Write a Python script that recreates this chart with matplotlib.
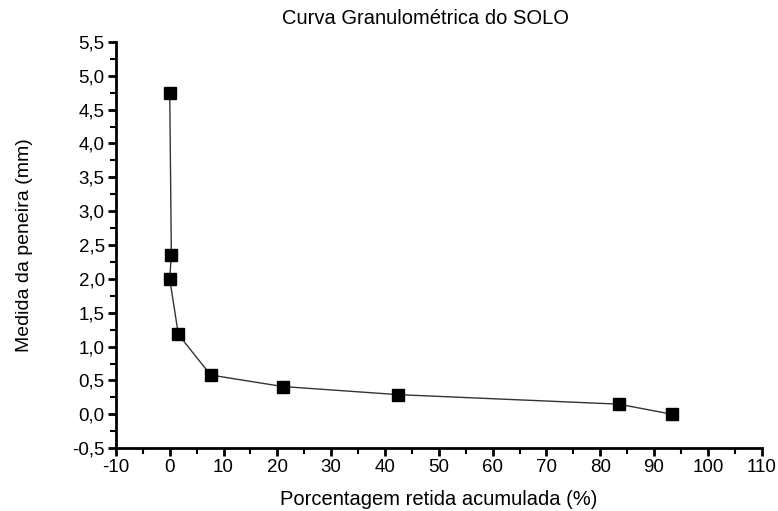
import numpy as np
import matplotlib.pyplot as plt
from matplotlib.ticker import MultipleLocator, FuncFormatter

# dados da curva granulometrica
porcentagem = [0.0, 0.3, 0.0, 1.6, 7.6, 21.0, 42.5, 83.4, 93.4]
peneira = [4.75, 2.36, 2.0, 1.18, 0.58, 0.41, 0.29, 0.15, 0.0]

plt.rcParams['font.family'] = ['Liberation Sans', 'DejaVu Sans']
plt.rcParams['axes.unicode_minus'] = False

fig = plt.figure(figsize=(7.78, 5.11), dpi=100)
ax = fig.add_axes([0.149, 0.123, 0.830, 0.795])

ax.plot(porcentagem, peneira, color='#333333', lw=1.0,
        marker='s', ms=8, mfc='black', mec='black', zorder=3)

ax.set_xlim(-10, 110)
ax.set_ylim(-0.5, 5.5)
ax.xaxis.set_major_locator(MultipleLocator(10))
ax.xaxis.set_minor_locator(MultipleLocator(5))
ax.yaxis.set_major_locator(MultipleLocator(0.5))
ax.yaxis.set_minor_locator(MultipleLocator(0.25))
ax.yaxis.set_major_formatter(FuncFormatter(lambda v, p: f"{v:.1f}".replace('.', ',')))

for s in ['top', 'right']:
    ax.spines[s].set_visible(False)
for s in ['left', 'bottom']:
    ax.spines[s].set_linewidth(2.0)

ax.tick_params(which='major', direction='out', length=6, width=2, labelsize=13.5, pad=2)
ax.tick_params(which='minor', direction='out', length=4, width=1.5)

fig.text(425 / 778, 1 - 18 / 511, 'Curva Granulométrica do SOLO', fontsize=14.5,
         ha='center', va='center')
ax.set_xlabel('Porcentagem retida acumulada (%)', fontsize=14.5, labelpad=10)
ax.set_ylabel('Medida da peneira (mm)', fontsize=14)
ax.yaxis.set_label_coords(-0.128, 0.5)

fig.savefig('out.png', dpi=100)
